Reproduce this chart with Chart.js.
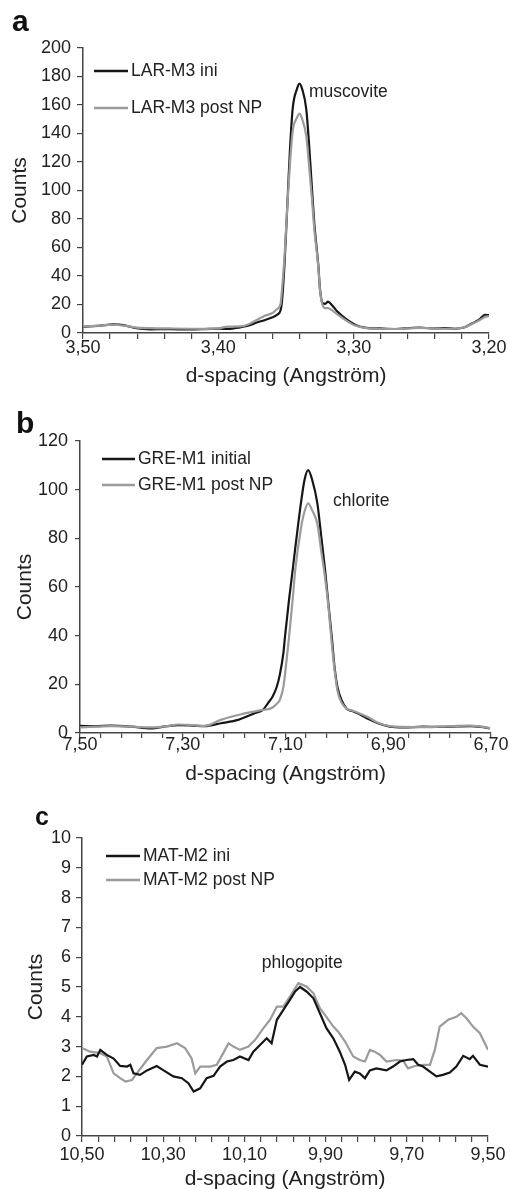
<!DOCTYPE html>
<html><head><meta charset="utf-8">
<script src="https://cdn.jsdelivr.net/npm/chart.js@4.4.1/dist/chart.umd.min.js"></script>
<style>
html,body{margin:0;padding:0;background:#fff;width:510px;height:1189px;overflow:hidden;position:relative}
canvas{position:absolute;left:0}
</style></head><body>
<canvas id="ca" width="510" height="390" style="top:0px;width:510px;height:390px"></canvas>
<canvas id="cb" width="510" height="392" style="top:395px;width:510px;height:392px"></canvas>
<canvas id="cc" width="510" height="402" style="top:790px;width:510px;height:402px"></canvas>
<script>
// ---------- Panel a: muscovite ----------
const aD = [3.500,3.487,3.478,3.470,3.462,3.450,3.436,3.421,3.410,3.399,3.393,3.384,3.378,3.371,3.366,3.360,3.357,3.354,3.353,3.351,3.349,3.347,3.345,3.342,3.340,3.338,3.335,3.333,3.331,3.329,3.326,3.325,3.323,3.321,3.319,3.316,3.312,3.306,3.299,3.292,3.281,3.269,3.258,3.251,3.242,3.233,3.225,3.218,3.213,3.207,3.203,3.200];
const aIni = [4.4,5.2,6.0,5.5,3.6,2.6,2.7,2.5,2.7,3.0,2.9,4.0,5.2,7.5,9.0,11.0,12.5,16.0,22,50,90,130,158,171,175,171,157,133,104,76,46,32,21,20.5,22,19.5,15,10,5.8,3.8,3.2,2.8,3.5,3.8,3.2,3.4,3.0,4.0,6.5,9.5,12.8,12.5];
const aPost = [4.6,5.2,5.8,5.2,4.0,3.4,3.2,3.0,2.9,3.4,4.5,4.6,6.0,9.5,12,14,16.5,20.5,30,55,90,120,142,151,154,150,138,118,96,72,45,31,19.5,17.5,17.5,16,13,9,5.2,3.6,3.0,2.8,3.3,3.6,3.2,3.0,3.0,4.0,6.2,9.0,11.2,11.8];
const aLabels = ['LAR-M3 ini','LAR-M3 post NP'];

// ---------- Panel b: chlorite ----------
const bD = [7.500,7.470,7.440,7.400,7.362,7.330,7.309,7.280,7.257,7.226,7.192,7.159,7.144,7.134,7.125,7.117,7.111,7.104,7.101,7.093,7.086,7.081,7.070,7.063,7.056,7.048,7.038,7.030,7.023,7.016,7.010,7.004,6.999,6.991,6.981,6.970,6.961,6.941,6.920,6.897,6.870,6.832,6.800,6.766,6.741,6.720,6.702];
const bIni = [2.9,2.8,3.0,2.6,1.9,2.8,3.2,3.0,2.8,4.0,5.4,8.2,9.5,12.3,15,19,24,33,39.6,55,67,76,94.4,104,108,104,94.4,80,67,52,39.6,26,19,13.6,10,9.0,8.2,6.0,4.0,2.6,2.3,2.6,2.5,2.7,2.8,2.5,1.9];
const bPost = [2.3,2.6,2.8,2.6,2.3,2.8,3.5,3.2,2.9,5.4,7.4,8.9,9.5,9.8,10.5,12,13.6,19,24,39.6,55,67,84,91,94.4,91.5,86,74,64,51,37,25,17.5,12.5,10,9.2,8.5,6.7,4.2,2.8,2.5,2.4,2.6,2.9,3.0,2.6,2.0];
const bLabels = ['GRE-M1 initial','GRE-M1 post NP'];

// ---------- Panel c: phlogopite ----------
const cIniD = [10.500,10.488,10.471,10.463,10.455,10.439,10.422,10.406,10.389,10.381,10.373,10.357,10.340,10.316,10.299,10.275,10.254,10.238,10.225,10.209,10.193,10.176,10.160,10.143,10.127,10.111,10.090,10.078,10.061,10.045,10.033,10.020,10.004,9.988,9.975,9.963,9.947,9.930,9.914,9.898,9.881,9.865,9.852,9.842,9.828,9.816,9.803,9.791,9.775,9.750,9.734,9.717,9.701,9.684,9.672,9.660,9.643,9.627,9.611,9.594,9.578,9.561,9.545,9.537,9.520,9.500];
const cIni = [2.39,2.67,2.72,2.67,2.89,2.72,2.60,2.35,2.33,2.39,2.10,2.05,2.20,2.35,2.20,2.00,1.94,1.77,1.49,1.60,1.94,2.02,2.33,2.50,2.55,2.67,2.55,2.83,3.06,3.28,3.11,3.90,4.23,4.57,4.85,5.00,4.85,4.62,4.12,3.62,3.28,2.83,2.39,1.88,2.16,2.10,1.94,2.20,2.27,2.20,2.33,2.50,2.55,2.58,2.39,2.33,2.16,2.00,2.05,2.13,2.33,2.69,2.58,2.69,2.39,2.33];
const cPostD = [10.500,10.480,10.455,10.439,10.422,10.406,10.393,10.377,10.365,10.340,10.316,10.291,10.266,10.246,10.230,10.221,10.209,10.184,10.168,10.152,10.139,10.127,10.111,10.090,10.074,10.053,10.037,10.020,10.004,9.988,9.967,9.947,9.930,9.914,9.898,9.881,9.869,9.852,9.832,9.816,9.803,9.791,9.779,9.766,9.750,9.725,9.709,9.697,9.680,9.660,9.643,9.631,9.619,9.598,9.578,9.566,9.553,9.537,9.520,9.500];
const cPost = [2.95,2.83,2.78,2.67,2.10,1.94,1.83,1.88,2.10,2.55,2.95,3.00,3.11,2.95,2.60,2.10,2.33,2.33,2.39,2.78,3.11,3.00,2.89,3.00,3.22,3.62,3.90,4.34,4.34,4.68,5.13,5.02,4.79,4.29,4.00,3.67,3.50,3.17,2.67,2.55,2.50,2.89,2.83,2.72,2.50,2.55,2.53,2.27,2.35,2.39,2.39,2.89,3.67,3.90,4.00,4.12,3.95,3.67,3.45,2.89];
const cLabels = ['MAT-M2 ini','MAT-M2 post NP'];

const xTitle = 'd-spacing (Angström)';
const yTitle = 'Counts';
const notes = ['muscovite','chlorite','phlogopite'];
const letters = ['a','b','c'];

// ---------- rendering ----------
const FONT = '"Liberation Sans", Arial, Helvetica, sans-serif';
Chart.defaults.font.family = FONT;
Chart.defaults.color = '#222';
const BLACK = '#161616', GRAY = '#9b9b9b';

const pts = (xs, ys) => xs.map((x, i) => ({x: x, y: ys[i]}));
const comma = v => v.toFixed(2).replace('.', ',');

const deco = {
  id: 'deco',
  afterDraw(chart, args, o) {
    const ctx = chart.ctx;
    ctx.save();
    ctx.fillStyle = '#111';
    ctx.textAlign = 'left';
    ctx.textBaseline = 'alphabetic';
    ctx.font = 'bold ' + o.letterSize + 'px ' + FONT;
    ctx.fillText(o.letter, o.letterX, o.letterY);
    ctx.font = '17.5px ' + FONT;
    ctx.textBaseline = 'middle';
    chart.data.datasets.forEach((ds, i) => {
      const y = o.legY + i * o.legDy;
      ctx.strokeStyle = ds.borderColor;
      ctx.lineWidth = 2.3;
      ctx.beginPath();
      ctx.moveTo(o.legX, y);
      ctx.lineTo(o.legX + o.legLen, y);
      ctx.stroke();
      ctx.fillStyle = '#222';
      ctx.fillText(ds.label, o.legX + o.legLen + 3, y);
    });
    const xs = chart.scales.x, ys = chart.scales.y;
    ctx.fillText(o.note, xs.getPixelForValue(o.noteX), ys.getPixelForValue(o.noteY));
    ctx.restore();
  }
};

function panel(id, p) {
  new Chart(document.getElementById(id), {
    type: 'line',
    data: {
      datasets: [
        {label: p.labels[0], data: p.ini, borderColor: BLACK, borderWidth: 2.2, pointRadius: 0,
         order: p.blackTop ? 0 : 1, cubicInterpolationMode: p.smooth ? 'monotone' : 'default', tension: 0},
        {label: p.labels[1], data: p.post, borderColor: GRAY, borderWidth: 2.2, pointRadius: 0,
         order: p.blackTop ? 1 : 0, cubicInterpolationMode: p.smooth ? 'monotone' : 'default', tension: 0}
      ]
    },
    options: {
      responsive: false,
      animation: false,
      events: [],
      layout: {padding: {top: p.padTop, right: p.padRight, bottom: 0, left: 0}},
      plugins: {
        legend: {display: false},
        tooltip: {enabled: false},
        deco: p.deco
      },
      scales: {
        x: {
          type: 'linear', reverse: true, min: p.xMin, max: p.xMax,
          afterFit: s => { s.height = p.xH; },
          ticks: {
            stepSize: p.xStep, autoSkip: false, maxRotation: 0, minRotation: 0,
            padding: p.xTickPad, color: '#222', font: {size: 18, lineHeight: 1},
            callback: v => {
              const k = Math.round(v * 100);
              return ((k - Math.round(p.xMin * 100)) % p.xLabelEvery === 0) ? comma(k / 100) : '';
            }
          },
          grid: {drawOnChartArea: false, drawTicks: true, tickLength: p.tl, color: '#444', lineWidth: 1.2},
          border: {color: '#444', width: 1.5},
          title: {display: true, text: xTitle, color: '#222', font: {size: 21, lineHeight: 1.2},
                  padding: {top: 0, bottom: p.xTitlePad}}
        },
        y: {
          type: 'linear', min: 0, max: p.yMax,
          afterFit: s => { s.width = p.yW; },
          ticks: {stepSize: p.yStep, padding: p.yTickPad, color: '#222', font: {size: 18, lineHeight: 1}},
          grid: {drawOnChartArea: false, drawTicks: true, tickLength: p.tl, color: '#444', lineWidth: 1.2},
          border: {color: '#444', width: 1.5},
          title: {display: true, text: yTitle, color: '#222', font: {size: 21, lineHeight: 1.2},
                  padding: {top: p.yTitlePad, bottom: 0}}
        }
      }
    },
    plugins: [deco]
  });
}

panel('ca', {
  labels: aLabels, ini: pts(aD, aIni), post: pts(aD, aPost), smooth: true,
  xMin: 3.20, xMax: 3.50, xStep: 0.02, xLabelEvery: 10, yMax: 200, yStep: 20,
  padTop: 48, padRight: 21, xH: 57, yW: 83, tl: 6, xTickPad: 0, xTitlePad: 1, yTickPad: 6, yTitlePad: 8,
  deco: {letter: letters[0], letterSize: 30, letterX: 12, letterY: 31, legX: 94, legY: 71, legDy: 37, legLen: 34,
         note: notes[0], noteX: 3.333, noteY: 169}
});
panel('cb', {
  labels: bLabels, ini: pts(bD, bIni), post: pts(bD, bPost), smooth: true,
  xMin: 6.70, xMax: 7.50, xStep: 0.04, xLabelEvery: 20, yMax: 120, yStep: 20,
  padTop: 46, padRight: 19, xH: 54, yW: 80, tl: 5, xTickPad: -2, xTitlePad: 0, yTickPad: 7, yTitlePad: 13,
  deco: {letter: letters[1], letterSize: 30, letterX: 16, letterY: 38, legX: 102, legY: 64, legDy: 26, legLen: 33,
         note: notes[1], noteX: 7.0075, noteY: 95.4}
});
panel('cc', {
  labels: cLabels, ini: pts(cIniD, cIni), post: pts(cPostD, cPost), smooth: false, blackTop: true,
  xMin: 9.50, xMax: 10.50, xStep: 0.04, xLabelEvery: 20, yMax: 10, yStep: 1,
  padTop: 48, padRight: 22, xH: 56, yW: 82, tl: 6, xTickPad: 4, xTitlePad: 0, yTickPad: 5, yTitlePad: 24,
  deco: {letter: letters[2], letterSize: 25, letterX: 35, letterY: 35, legX: 106, legY: 66, legDy: 24, legLen: 34,
         note: notes[2], noteX: 10.057, noteY: 5.8}
});
</script>
</body></html>
